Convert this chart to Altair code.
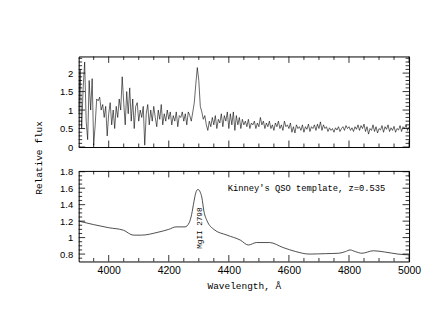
import altair as alt
import pandas as pd

# ---------------- data ----------------
# observed spectrum, 5 A sampling from 3900 to 5000
wave_obs = list(range(3900, 5001, 5))
flux_obs = [
    # 3900-3995
    0.9, 2.1, 0.5, 1.6, 2.3, 0.7, 0.2, 1.8, 1.0, 1.85,
    0.05, 0.6, 1.3, 1.25, 1.35, 1.0, 1.15, 0.8, 1.1, 0.3,
    # 4000-4095
    0.9, 1.2, 0.6, 1.0, 0.5, 1.1, 0.8, 1.3, 1.0, 1.9,
    1.2, 0.6, 1.5, 0.9, 1.6, 0.7, 1.3, 0.5, 1.1, 1.2,
    # 4100-4195
    0.7, 1.0, 0.8, 1.1, 0.05, 0.9, 1.15, 0.6, 1.0, 0.7,
    1.1, 0.8, 0.55, 1.0, 0.75, 1.15, 0.6, 0.9, 0.7, 1.0,
    # 4200-4295
    0.75, 0.95, 0.6, 0.85, 0.7, 0.95, 0.55, 0.85, 0.8, 0.95,
    0.7, 0.9, 0.6, 0.95, 0.85, 0.7, 0.95, 1.2, 1.7, 2.15,
    # 4300-4395
    1.8, 1.1, 0.95, 0.75, 0.85, 0.6, 0.45, 0.7, 0.55, 0.8,
    0.6, 0.85, 0.5, 0.75, 0.65, 0.9, 0.55, 0.85, 0.7, 0.95,
    # 4400-4495
    0.5, 0.9, 0.6, 0.95, 0.45, 0.85, 0.6, 0.8, 0.5, 0.75,
    0.6, 0.7, 0.55, 0.75, 0.5, 0.65, 0.6, 0.7, 0.5, 0.65,
    # 4500-4595
    0.55, 0.8, 0.6, 0.7, 0.5, 0.65, 0.55, 0.7, 0.5, 0.6,
    0.45, 0.65, 0.55, 0.7, 0.5, 0.6, 0.45, 0.7, 0.55, 0.6,
    # 4600-4695
    0.5, 0.65, 0.4, 0.55, 0.38, 0.6, 0.5, 0.55, 0.45, 0.6,
    0.4, 0.55, 0.48, 0.62, 0.42, 0.55, 0.5, 0.6, 0.45, 0.62,
    # 4700-4795
    0.5, 0.68, 0.45, 0.6, 0.5, 0.55, 0.42, 0.52, 0.45, 0.5,
    0.4, 0.52, 0.46, 0.55, 0.42, 0.5, 0.55, 0.45, 0.58, 0.5,
    # 4800-4895
    0.55, 0.45, 0.52, 0.42, 0.55, 0.48, 0.6, 0.45, 0.58, 0.5,
    0.62, 0.42, 0.55, 0.35, 0.5, 0.45, 0.6, 0.42, 0.55, 0.38,
    # 4900-4995
    0.5, 0.46, 0.58, 0.4, 0.55, 0.48, 0.6, 0.42, 0.52, 0.45,
    0.56, 0.4, 0.5, 0.46, 0.58, 0.42, 0.55, 0.5, 0.6, 0.45,
    # 5000
    0.55,
]

# Kinney QSO template (smooth)
wave_tpl = [3900, 4000, 4049, 4082, 4109, 4164, 4200, 4224, 4254, 4268,
            4276, 4284, 4290, 4297, 4305, 4310, 4317, 4328, 4350, 4394,
            4438, 4465, 4492, 4536, 4580, 4623, 4667, 4722, 4766, 4788,
            4804, 4821, 4843, 4881, 4919, 4963, 5000]
flux_tpl = [1.20, 1.12, 1.09, 1.03, 1.03, 1.065, 1.10, 1.13, 1.13, 1.18,
            1.28, 1.44, 1.545, 1.585, 1.55, 1.49, 1.32, 1.20, 1.10, 1.03,
            0.97, 0.91, 0.94, 0.94, 0.88, 0.83, 0.80, 0.805, 0.81, 0.83,
            0.85, 0.83, 0.81, 0.84, 0.825, 0.80, 0.79]

x_labels = [4000, 4200, 4400, 4600, 4800, 5000]
x_minor = [w for w in range(3950, 5000, 50) if w not in x_labels]
y1_labels = [0, 0.5, 1, 1.5, 2]
y1_minor = [round(v * 0.1, 2) for v in range(1, 25) if v % 5 != 0]
y2_labels = [0.8, 1.0, 1.2, 1.4, 1.6, 1.8]
y2_minor = [round(0.75 + v * 0.05, 2) for v in range(0, 21) if v % 4 != 1]

annot_top = "Kinney's QSO template, z=0.535"
annot_line = "MgII 2798"
x_title = "Wavelength, Å"
y_title = "Relative flux"

# ---------------- layout ----------------
W = 332
H = 91
MONO = "Liberation Mono"
SANS = "Liberation Sans"

x_scale = alt.Scale(domain=[3900, 5000], nice=False, zero=False)
y1_scale = alt.Scale(domain=[0, 2.45], nice=False, zero=False)
y2_scale = alt.Scale(domain=[0.71, 1.81], nice=False, zero=False)


def yaxis(vals, **kw):
    return alt.Axis(values=vals, format="~g", ticks=False, tickSize=0,
                    domain=False, grid=False, labelFont=SANS,
                    labelFontSize=9.5, labelColor="black", labelPadding=6,
                    **kw)


x_axis_bottom = alt.Axis(values=x_labels, format="d", ticks=False, tickSize=0,
                         domain=False, grid=False, labelFont=SANS,
                         labelFontSize=10.5, labelColor="black",
                         labelPadding=4, labelFlush=False,
                         title=x_title, titleFont=MONO, titleFontSize=9.5,
                         titleFontWeight="normal", titleColor="black",
                         titlePadding=5)
y_axis_top = yaxis(y1_labels, title=None)
y_axis_bottom = yaxis(y2_labels, title=y_title, titleFont=MONO,
                      titleFontSize=9.5, titleFontWeight="normal",
                      titleColor="black", titleAngle=270,
                      titleBaseline="middle", titleAlign="center",
                      titleX=-40.5, titleY=-13.5)


def xticks(vals, length, xaxis):
    df = pd.DataFrame({"wavelength": vals})
    base = alt.Chart(df).mark_rule(color="black", strokeWidth=0.8)
    ex = alt.X("wavelength:Q", scale=x_scale, axis=xaxis)
    return [
        base.encode(x=ex, y=alt.value(H), y2=alt.value(H - length)),
        base.encode(x=ex, y=alt.value(0), y2=alt.value(length)),
    ]


def yticks(vals, length, scale, yaxis_obj):
    df = pd.DataFrame({"flux": vals})
    base = alt.Chart(df).mark_rule(color="black", strokeWidth=0.8)
    ey = alt.Y("flux:Q", scale=scale, axis=yaxis_obj)
    return [
        base.encode(y=ey, x=alt.value(0), x2=alt.value(length)),
        base.encode(y=ey, x=alt.value(W), x2=alt.value(W - length)),
    ]


obs = pd.DataFrame({"wavelength": wave_obs, "flux": flux_obs})
tpl = pd.DataFrame({"wavelength": wave_tpl, "flux": flux_tpl})

top_line = alt.Chart(obs).mark_line(color="black", strokeWidth=0.6, clip=True).encode(
    x=alt.X("wavelength:Q", scale=x_scale, axis=None),
    y=alt.Y("flux:Q", scale=y1_scale, axis=y_axis_top),
)

top = alt.layer(
    top_line,
    *xticks(x_minor, 3.5, None),
    *xticks(x_labels, 6.5, None),
    *yticks(y1_minor, 3.5, y1_scale, y_axis_top),
    *yticks(y1_labels, 6.5, y1_scale, y_axis_top),
).properties(width=W, height=H)

bot_line = alt.Chart(tpl).mark_line(
    color="#222222", strokeWidth=0.8, interpolate="monotone", clip=True
).encode(
    x=alt.X("wavelength:Q", scale=x_scale, axis=x_axis_bottom),
    y=alt.Y("flux:Q", scale=y2_scale, axis=y_axis_bottom),
)

txt1 = alt.Chart(pd.DataFrame({"t": [annot_top]})).mark_text(
    align="right", baseline="middle", font=MONO, fontSize=8.8, color="black"
).encode(x=alt.value(308), y=alt.value(17), text="t:N")

txt2 = alt.Chart(pd.DataFrame({"t": [annot_line]})).mark_text(
    align="center", baseline="middle", font=MONO, fontSize=7.7,
    color="black", angle=270
).encode(x=alt.value(122), y=alt.value(57.5), text="t:N")

bottom = alt.layer(
    bot_line,
    *xticks(x_minor, 3.5, x_axis_bottom),
    *xticks(x_labels, 6.5, x_axis_bottom),
    *yticks(y2_minor, 3.5, y2_scale, y_axis_bottom),
    *yticks(y2_labels, 6.5, y2_scale, y_axis_bottom),
    txt1,
    txt2,
).properties(width=W, height=H)

chart = alt.vconcat(top, bottom, spacing=24, bounds="flush").properties(
    padding={"left": 24, "top": 47, "right": 0, "bottom": 5}
).configure_view(stroke="black", strokeWidth=1)

chart.save("out.html", embed_options={"renderer": "svg", "actions": False})
